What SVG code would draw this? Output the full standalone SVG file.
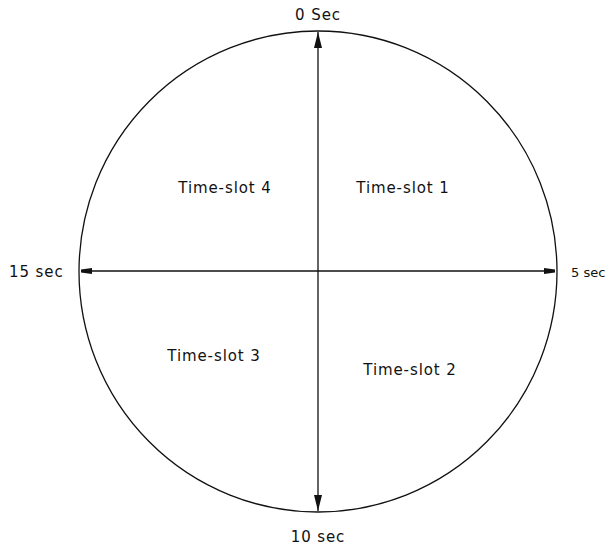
<svg xmlns="http://www.w3.org/2000/svg" width="609" height="549" viewBox="0 0 609 549">
<style>
.t{font-family:"DejaVu Sans","Liberation Sans",sans-serif;font-size:15px;letter-spacing:0.9px;fill:#111}
.ln{stroke:#111;stroke-width:1.3;fill:none}
</style>
<defs>
<marker id="av" markerWidth="16" markerHeight="10" refX="16" refY="5" viewBox="0 0 16 10" orient="auto" markerUnits="userSpaceOnUse">
<path d="M0,1 L16,5 L0,9 Z" fill="#111"/>
</marker>
<marker id="ah" markerWidth="11" markerHeight="7" refX="11" refY="3.5" viewBox="0 0 11 7" orient="auto" markerUnits="userSpaceOnUse">
<path d="M0,0.5 L11,2 L11,5 L0,6.5 Z" fill="#111"/>
</marker>
</defs>
<rect width="609" height="549" fill="#fff"/>
<g id="circle"><ellipse cx="318" cy="271.5" rx="239" ry="240.5" class="ln"/></g>
<g id="connectors">
<line x1="318" y1="271" x2="318" y2="32" class="ln" marker-end="url(#av)"/>
<line x1="318" y1="271" x2="318" y2="511" class="ln" marker-end="url(#av)"/>
<line x1="318" y1="271" x2="81" y2="271" class="ln" marker-end="url(#ah)"/>
<line x1="318" y1="271" x2="555" y2="271" class="ln" marker-end="url(#ah)"/>
</g>
<g id="label-0"><text class="t" x="318" y="20" text-anchor="middle">0 Sec</text></g>
<g id="label-10"><text class="t" x="318" y="542" text-anchor="middle">10 sec</text></g>
<g id="label-15"><text class="t" x="9" y="277">15 sec</text></g>
<g id="label-5"><text class="t" x="571" y="277" style="font-size:13px;letter-spacing:0px">5 sec</text></g>
<g id="slot1"><text class="t" x="403" y="193" text-anchor="middle">Time-slot 1</text></g>
<g id="slot4"><text class="t" x="225" y="193" text-anchor="middle">Time-slot 4</text></g>
<g id="slot3"><text class="t" x="214" y="361" text-anchor="middle">Time-slot 3</text></g>
<g id="slot2"><text class="t" x="410" y="375" text-anchor="middle">Time-slot 2</text></g>
</svg>
